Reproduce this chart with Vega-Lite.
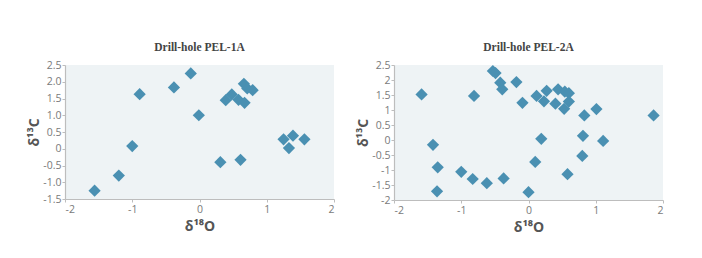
{
  "$schema": "https://vega.github.io/schema/vega-lite/v6.json",
  "background": "white",
  "padding": {"left": 27, "top": 41, "right": 5, "bottom": 5},
  "spacing": 21,
  "config": {
    "view": {"fill": "#eef3f5", "stroke": null},
    "axis": {
      "grid": false,
      "domainColor": "#bdbdbd",
      "domainWidth": 1.2,
      "tickColor": "#bdbdbd",
      "tickSize": 3,
      "labelPadding": 1,
      "labelColor": "#7a7a7a",
      "labelFont": "Open Sans",
      "labelFontSize": 10.5,
      "titleFont": "Open Sans",
      "titleFontSize": 14,
      "titleColor": "#555555",
      "titleFontWeight": "bold"
    },
    "axisX": {"labelPadding": 2, "titlePadding": 5},
    "axisY": {"titlePadding": 1},
    "title": {"font": "Liberation Serif", "fontSize": 11.5, "fontWeight": "bold", "color": "#444444", "offset": 7}
  },
  "datasets": {
    "pel1a": [
      {"d18O": -1.56, "d13C": -1.25},
      {"d18O": -1.2, "d13C": -0.8},
      {"d18O": -1.0, "d13C": 0.08},
      {"d18O": -0.89, "d13C": 1.63},
      {"d18O": -0.38, "d13C": 1.83},
      {"d18O": -0.13, "d13C": 2.25},
      {"d18O": -0.01, "d13C": 1.0},
      {"d18O": 0.31, "d13C": -0.4},
      {"d18O": 0.39, "d13C": 1.45},
      {"d18O": 0.48, "d13C": 1.62},
      {"d18O": 0.58, "d13C": 1.46},
      {"d18O": 0.61, "d13C": -0.33},
      {"d18O": 0.66, "d13C": 1.94},
      {"d18O": 0.67, "d13C": 1.37},
      {"d18O": 0.71, "d13C": 1.8},
      {"d18O": 0.79, "d13C": 1.75},
      {"d18O": 1.25, "d13C": 0.28},
      {"d18O": 1.33, "d13C": 0.02},
      {"d18O": 1.39, "d13C": 0.39},
      {"d18O": 1.56, "d13C": 0.28}
    ],
    "pel2a": [
      {"d18O": -1.59, "d13C": 1.52},
      {"d18O": -1.42, "d13C": -0.16},
      {"d18O": -1.35, "d13C": -0.91},
      {"d18O": -1.36, "d13C": -1.71},
      {"d18O": -1.0, "d13C": -1.06},
      {"d18O": -0.83, "d13C": -1.3},
      {"d18O": -0.81, "d13C": 1.47},
      {"d18O": -0.62, "d13C": -1.44},
      {"d18O": -0.53, "d13C": 2.3},
      {"d18O": -0.49, "d13C": 2.23},
      {"d18O": -0.42, "d13C": 1.91},
      {"d18O": -0.39, "d13C": 1.69},
      {"d18O": -0.37, "d13C": -1.28},
      {"d18O": -0.18, "d13C": 1.93},
      {"d18O": -0.09, "d13C": 1.24},
      {"d18O": 0.0, "d13C": -1.74},
      {"d18O": 0.1, "d13C": -0.73},
      {"d18O": 0.12, "d13C": 1.47},
      {"d18O": 0.19, "d13C": 0.04},
      {"d18O": 0.23, "d13C": 1.29},
      {"d18O": 0.27, "d13C": 1.64},
      {"d18O": 0.4, "d13C": 1.21},
      {"d18O": 0.44, "d13C": 1.69},
      {"d18O": 0.53, "d13C": 1.04},
      {"d18O": 0.54, "d13C": 1.61},
      {"d18O": 0.58, "d13C": -1.14},
      {"d18O": 0.6, "d13C": 1.56},
      {"d18O": 0.6, "d13C": 1.28},
      {"d18O": 0.8, "d13C": -0.53},
      {"d18O": 0.81, "d13C": 0.14},
      {"d18O": 0.83, "d13C": 0.82},
      {"d18O": 1.01, "d13C": 1.03},
      {"d18O": 1.11, "d13C": -0.03},
      {"d18O": 1.86, "d13C": 0.82}
    ]
  },
  "hconcat": [
    {
      "title": "Drill-hole PEL-1A",
      "width": 269,
      "height": 134,
      "data": {"name": "pel1a"},
      "mark": {"type": "point", "shape": "diamond", "filled": true, "size": 150, "color": "#4a90b2", "opacity": 1},
      "encoding": {
        "x": {
          "field": "d18O", "type": "quantitative", "title": "δ¹⁸O",
          "scale": {"domain": [-2, 2], "nice": false},
          "axis": {"values": [-2, -1, 0, 1, 2], "labelExpr": "datum.value < 0 ? '-' + format(-datum.value, 'd') : format(datum.value, 'd')"}
        },
        "y": {
          "field": "d13C", "type": "quantitative", "title": "δ¹³C",
          "scale": {"domain": [-1.5, 2.5], "nice": false},
          "axis": {"values": [-1.5, -1, -0.5, 0, 0.5, 1, 1.5, 2, 2.5], "labelExpr": "datum.value == 0 ? '0' : (datum.value < 0 ? '-' + format(-datum.value, '.1f') : format(datum.value, '.1f'))"}
        }
      }
    },
    {
      "title": "Drill-hole PEL-2A",
      "width": 269,
      "height": 135,
      "data": {"name": "pel2a"},
      "mark": {"type": "point", "shape": "diamond", "filled": true, "size": 150, "color": "#4a90b2", "opacity": 1},
      "encoding": {
        "x": {
          "field": "d18O", "type": "quantitative", "title": "δ¹⁸O",
          "scale": {"domain": [-2, 2], "nice": false},
          "axis": {"values": [-2, -1, 0, 1, 2], "labelExpr": "datum.value < 0 ? '-' + format(-datum.value, 'd') : format(datum.value, 'd')"}
        },
        "y": {
          "field": "d13C", "type": "quantitative", "title": "δ¹³C",
          "scale": {"domain": [-2, 2.5], "nice": false},
          "axis": {"values": [-2, -1.5, -1, -0.5, 0, 0.5, 1, 1.5, 2, 2.5], "labelExpr": "datum.value < 0 ? '-' + format(-datum.value, '~g') : format(datum.value, '~g')"}
        }
      }
    }
  ]
}
